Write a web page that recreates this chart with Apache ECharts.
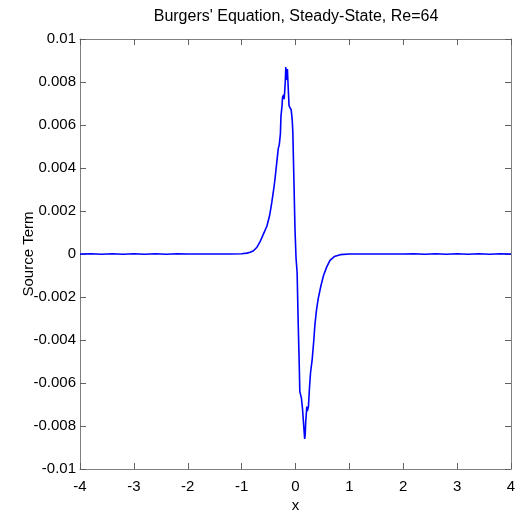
<!DOCTYPE html>
<html><head><meta charset="utf-8">
<script src="https://cdn.jsdelivr.net/npm/echarts@6/dist/echarts.min.js"></script>
<style>html,body{margin:0;padding:0;background:#fff;overflow:hidden}#c{width:515px;height:510px}</style>
</head><body><div id="c"></div>
<script>
const titleText = "Burgers' Equation, Steady-State, Re=64";
const xName = "x";
const yName = "Source Term";
const xTicks = [-4,-3,-2,-1,0,1,2,3,4];
const yTicks = [-0.01,-0.008,-0.006,-0.004,-0.002,0,0.002,0.004,0.006,0.008,0.01];
const xs = [-4,-3.8,-3.6,-3.4,-3.2,-3,-2.8,-2.6,-2.4,-2.2,-2,-1.8,-1.5,-1.2,-1.0,-0.9,-0.84,-0.78,-0.72,-0.66,-0.60,-0.53,-0.48,-0.44,-0.40,-0.38,-0.35,-0.32,-0.30,-0.28,-0.27,-0.25,-0.24,-0.22,-0.21,-0.19,-0.18,-0.165,-0.15,-0.14,-0.12,-0.10,-0.08,-0.06,-0.05,-0.03,-0.01,0.01,0.03,0.05,0.07,0.08,0.10,0.11,0.13,0.15,0.17,0.18,0.19,0.21,0.22,0.24,0.26,0.28,0.31,0.34,0.36,0.39,0.42,0.47,0.52,0.58,0.64,0.72,0.83,1.0,1.3,1.6,1.8,2.0,2.2,2.4,2.6,2.8,3.0,3.2,3.4,3.6,3.8,4];
const ys = [0,0.00001,-0.00001,0.00001,-0.00001,0.00001,-0.00001,0.00001,-0.00001,0.00001,0,0,0,0,0.00001,0.00004,0.00008,0.00015,0.0003,0.00056,0.0009,0.0013,0.0018,0.0024,0.0031,0.0035,0.0042,0.0049,0.0051,0.0056,0.0064,0.0069,0.0073,0.0074,0.0072,0.0080,0.0087,0.0081,0.0086,0.0080,0.0069,0.0068,0.0067,0.0062,0.0057,0.0035,0.0012,-0.0002,-0.00085,-0.0032,-0.0052,-0.0064,-0.0066,-0.0067,-0.0072,-0.0079,-0.0086,-0.0084,-0.0078,-0.0071,-0.0073,-0.0071,-0.0062,-0.0055,-0.0049,-0.0040,-0.0033,-0.0026,-0.0021,-0.0015,-0.0010,-0.0006,-0.0003,-0.00012,-0.00003,0,0,0,0,0,0.00001,-0.00001,0.00001,-0.00001,0.00001,-0.00001,0.00001,-0.00001,0.00001,0];
const data = xs.map((x,i)=>[x,ys[i]]);
const font = 'Liberation Sans, Arial, sans-serif';
const axisCol = '#808080';
const el = document.getElementById('c');
const chart = echarts.init(el);
const fmtY = v => String(+v.toFixed(3));
const tick = {show:true,inside:true,length:6,lineStyle:{color:'#606060'}};
const line = {show:true,onZero:false,lineStyle:{color:axisCol}};
chart.setOption({
  animation:false,
  backgroundColor:'#fff',
  graphic:[{type:'text',x:296,y:9,style:{text:titleText,textAlign:'center',fontFamily:font,fontSize:16,fill:'#000'}}],
  grid:{left:80,right:4,top:39,bottom:41,containLabel:false,outerBoundsMode:'none'},
  xAxis:[{type:'value',min:xTicks[0],max:xTicks[xTicks.length-1],interval:1,position:'bottom',
    name:xName,nameLocation:'middle',nameGap:29,nameMoveOverlap:false,nameTextStyle:{fontFamily:font,fontSize:15,color:'#000'},
    axisLine:line,axisTick:tick,
    axisLabel:{fontFamily:font,fontSize:15,color:'#000',margin:10,showMinLabel:true,showMaxLabel:true},splitLine:{show:false}},
    {type:'value',min:xTicks[0],max:xTicks[xTicks.length-1],interval:1,position:'top',
    axisLine:line,axisTick:tick,axisLabel:{show:false},splitLine:{show:false}}],
  yAxis:[{type:'value',min:yTicks[0],max:yTicks[yTicks.length-1],interval:0.002,position:'left',
    name:yName,nameLocation:'middle',nameGap:44,nameMoveOverlap:false,nameRotate:90,nameTextStyle:{fontFamily:font,fontSize:15,color:'#000'},
    axisLine:line,axisTick:tick,
    axisLabel:{fontFamily:font,fontSize:15,color:'#000',margin:4,formatter:fmtY,showMinLabel:true,showMaxLabel:true},splitLine:{show:false}},
    {type:'value',min:yTicks[0],max:yTicks[yTicks.length-1],interval:0.002,position:'right',
    axisLine:line,axisTick:tick,axisLabel:{show:false},splitLine:{show:false}}],
  series:[{type:'line',data:data,xAxisIndex:0,yAxisIndex:0,showSymbol:false,symbol:'none',
    lineStyle:{color:'#0000ff',width:1.6},itemStyle:{color:'#0000ff'}}]
});
</script></body></html>
